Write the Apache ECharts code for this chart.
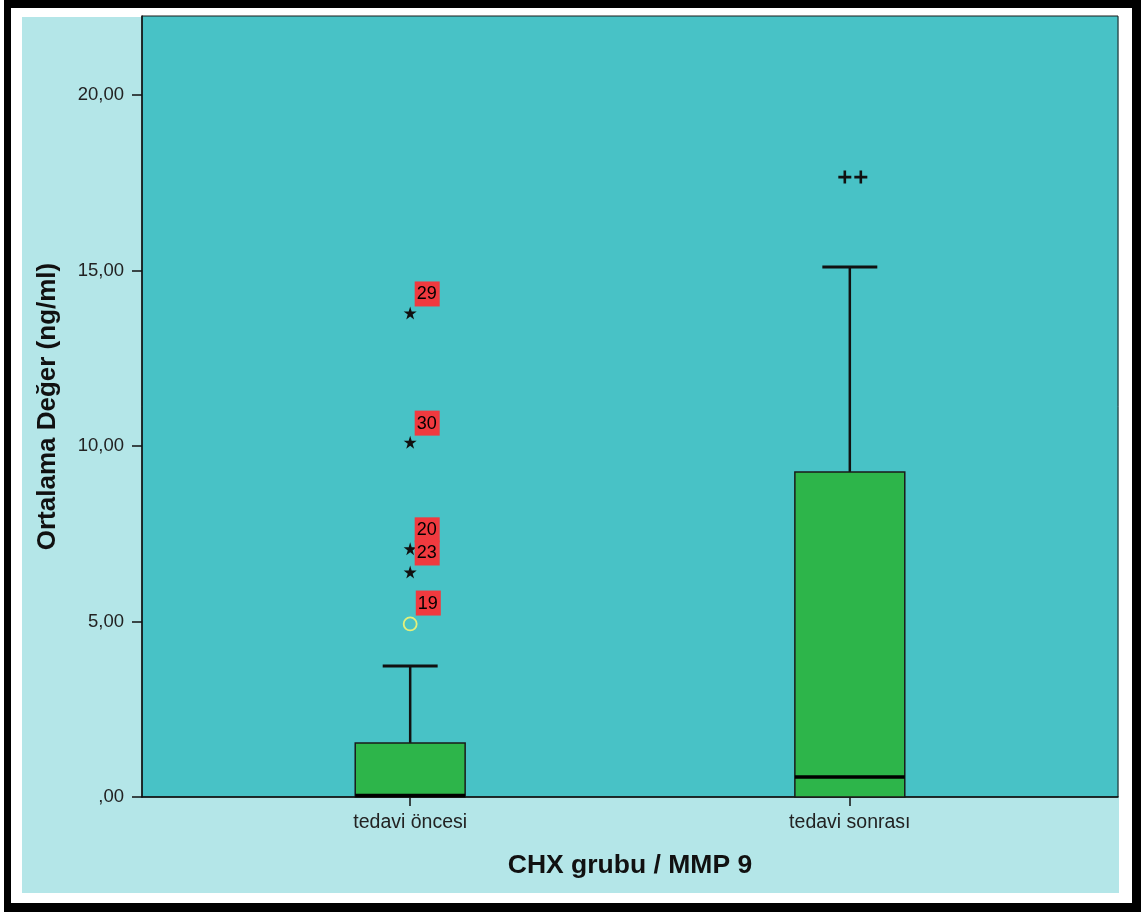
<!DOCTYPE html>
<html>
<head>
<meta charset="utf-8">
<script src="https://cdn.jsdelivr.net/npm/echarts@6/dist/echarts.min.js"></script>
<style>
html,body{margin:0;padding:0;background:#fff;}
#chart{width:1144px;height:912px;}
</style>
</head>
<body>
<div id="chart"></div>
<script>
// ---- data ----
const categories = ['tedavi öncesi', 'tedavi sonrası'];
const catPos = [1, 2];
const boxMin = [0, 0];
const boxQ1 = [0, 0];
const boxMedian = [0.04, 0.57];
const boxQ3 = [1.54, 9.26];
const boxMax = [3.73, 15.1];
// extreme outliers (stars) for tedavi öncesi
const starValues = [13.79, 10.11, 7.07, 6.41];
const starIds = ['29', '30', '20', '23'];
// mild outlier (circle) for tedavi öncesi
const circleValues = [4.93];
const circleIds = ['19'];
// extreme outliers (plus) for tedavi sonrası, two identical values
const plusValues = [17.66, 17.66];
const yTicks = [0, 5, 10, 15, 20];

const FONT = '"Liberation Sans", Arial, sans-serif';
const chart = echarts.init(document.getElementById('chart'), null, {renderer: 'canvas'});

const boxData = catPos.map((x, i) => [x, boxMin[i], boxQ1[i], boxMedian[i], boxQ3[i], boxMax[i]]);
const starData = starValues.map((v, i) => ({value: [catPos[0], v], name: starIds[i]}));
const circleData = circleValues.map((v, i) => ({value: [catPos[0], v], name: circleIds[i]}));
const plusOffsets = [[-5, 0], [11, 0]];
const plusData = plusValues.map((v, i) => ({value: [catPos[1], v], symbolOffset: plusOffsets[i]}));

const starPath = 'path://M50,0 L61,35 L98,35 L68,57 L79,91 L50,70 L21,91 L32,57 L2,35 L39,35 Z';
const plusPath = 'path://M4,0h2v4h4v2h-4v4h-2v-4h-4v-2h4z';

const labelStyle = {
  show: true,
  formatter: p => p.name,
  position: [11, -25],
  backgroundColor: '#f03a3f',
  color: '#000',
  fontFamily: FONT,
  fontSize: 18,
  lineHeight: 20,
  padding: [3, 3, 2, 2]
};

const option = {
  animation: false,
  backgroundColor: '#ffffff',
  graphic: [
    {type: 'rect', z: -10, silent: true, shape: {x: 4, y: 0, width: 1137, height: 912}, style: {fill: '#000'}},
    {type: 'rect', z: -9, silent: true, shape: {x: 11, y: 8, width: 1121, height: 895}, style: {fill: '#fff'}},
    {type: 'rect', z: -8, silent: true, shape: {x: 22, y: 17, width: 1097, height: 876}, style: {fill: '#b4e6e8'}}
  ],
  grid: {
    left: 142, right: 26, top: 16, bottom: 115,
    show: true,
    backgroundColor: '#48c2c6',
    borderColor: '#1a1a1a',
    borderWidth: 1
  },
  xAxis: {
    type: 'value',
    min: 0.39, max: 2.61,
    name: 'CHX grubu / MMP 9',
    nameLocation: 'middle',
    nameGap: 55,
    nameTextStyle: {fontFamily: FONT, fontSize: 26.5, fontWeight: 'bold', color: '#111'},
    axisLine: {show: true, lineStyle: {color: '#111', width: 1.5}},
    axisTick: {show: true, customValues: catPos, length: 9, lineStyle: {color: '#111', width: 1.5}},
    axisLabel: {
      customValues: catPos,
      formatter: v => categories[catPos.indexOf(Math.round(v))] || '',
      fontFamily: FONT, fontSize: 19.5, color: '#222', margin: 16
    },
    splitLine: {show: false}
  },
  yAxis: {
    type: 'value',
    min: 0, max: 22.25,
    name: 'Ortalama Değer (ng/ml)',
    nameLocation: 'middle',
    nameRotate: 90,
    nameGap: 81,
    nameTextStyle: {fontFamily: FONT, fontSize: 26, fontWeight: 'bold', color: '#111'},
    axisLine: {show: true, lineStyle: {color: '#111', width: 1.5}},
    axisTick: {show: true, customValues: yTicks, length: 10, lineStyle: {color: '#111', width: 1.5}},
    axisLabel: {
      customValues: yTicks,
      formatter: v => v === 0 ? ',00' : v.toFixed(2).replace('.', ','),
      fontFamily: FONT, fontSize: 18.5, color: '#222', margin: 18
    },
    splitLine: {show: false}
  },
  series: [
    {
      type: 'custom',
      name: 'box',
      data: boxData,
      encode: {x: 0, y: [1, 2, 3, 4, 5]},
      z: 3,
      renderItem: (params, api) => {
        const x = api.value(0);
        const pMin = api.coord([x, api.value(1)]);
        const pQ1 = api.coord([x, api.value(2)]);
        const pMed = api.coord([x, api.value(3)]);
        const pQ3 = api.coord([x, api.value(4)]);
        const pMax = api.coord([x, api.value(5)]);
        const bw = api.size([1, 0])[0] * 0.25;
        const cw = bw / 2;
        const cx = pQ1[0];
        return {
          type: 'group',
          children: [
            {type: 'line', shape: {x1: cx, y1: pQ3[1], x2: cx, y2: pMax[1]}, style: {stroke: '#111', lineWidth: 2.5}},
            {type: 'line', shape: {x1: cx - cw / 2, y1: pMax[1], x2: cx + cw / 2, y2: pMax[1]}, style: {stroke: '#111', lineWidth: 3}},
            {type: 'line', shape: {x1: cx, y1: pQ1[1], x2: cx, y2: pMin[1]}, style: {stroke: '#111', lineWidth: 2.5}},
            {type: 'rect', shape: {x: cx - bw / 2, y: pQ3[1], width: bw, height: pQ1[1] - pQ3[1]}, style: {fill: '#2db54a', stroke: '#1a1a1a', lineWidth: 1.5}},
            {type: 'line', shape: {x1: cx - bw / 2, y1: pMed[1], x2: cx + bw / 2, y2: pMed[1]}, style: {stroke: '#000', lineWidth: 3.5}}
          ]
        };
      }
    },
    {
      type: 'scatter',
      name: 'extreme',
      data: starData,
      symbol: starPath,
      symbolSize: 13,
      itemStyle: {color: '#111', opacity: 1},
      label: labelStyle,
      z: 4
    },
    {
      type: 'scatter',
      name: 'outlier',
      data: circleData,
      symbol: 'circle',
      symbolSize: 13,
      itemStyle: {color: 'rgba(0,0,0,0)', borderColor: '#e4f07a', borderWidth: 1.8, opacity: 1},
      label: Object.assign({}, labelStyle, {position: [13, -26]}),
      z: 4
    },
    {
      type: 'scatter',
      name: 'extreme2',
      data: plusData,
      symbol: plusPath,
      symbolSize: 13,
      itemStyle: {color: '#111', opacity: 1},
      z: 4
    }
  ]
};
chart.setOption(option);
</script>
</body>
</html>
